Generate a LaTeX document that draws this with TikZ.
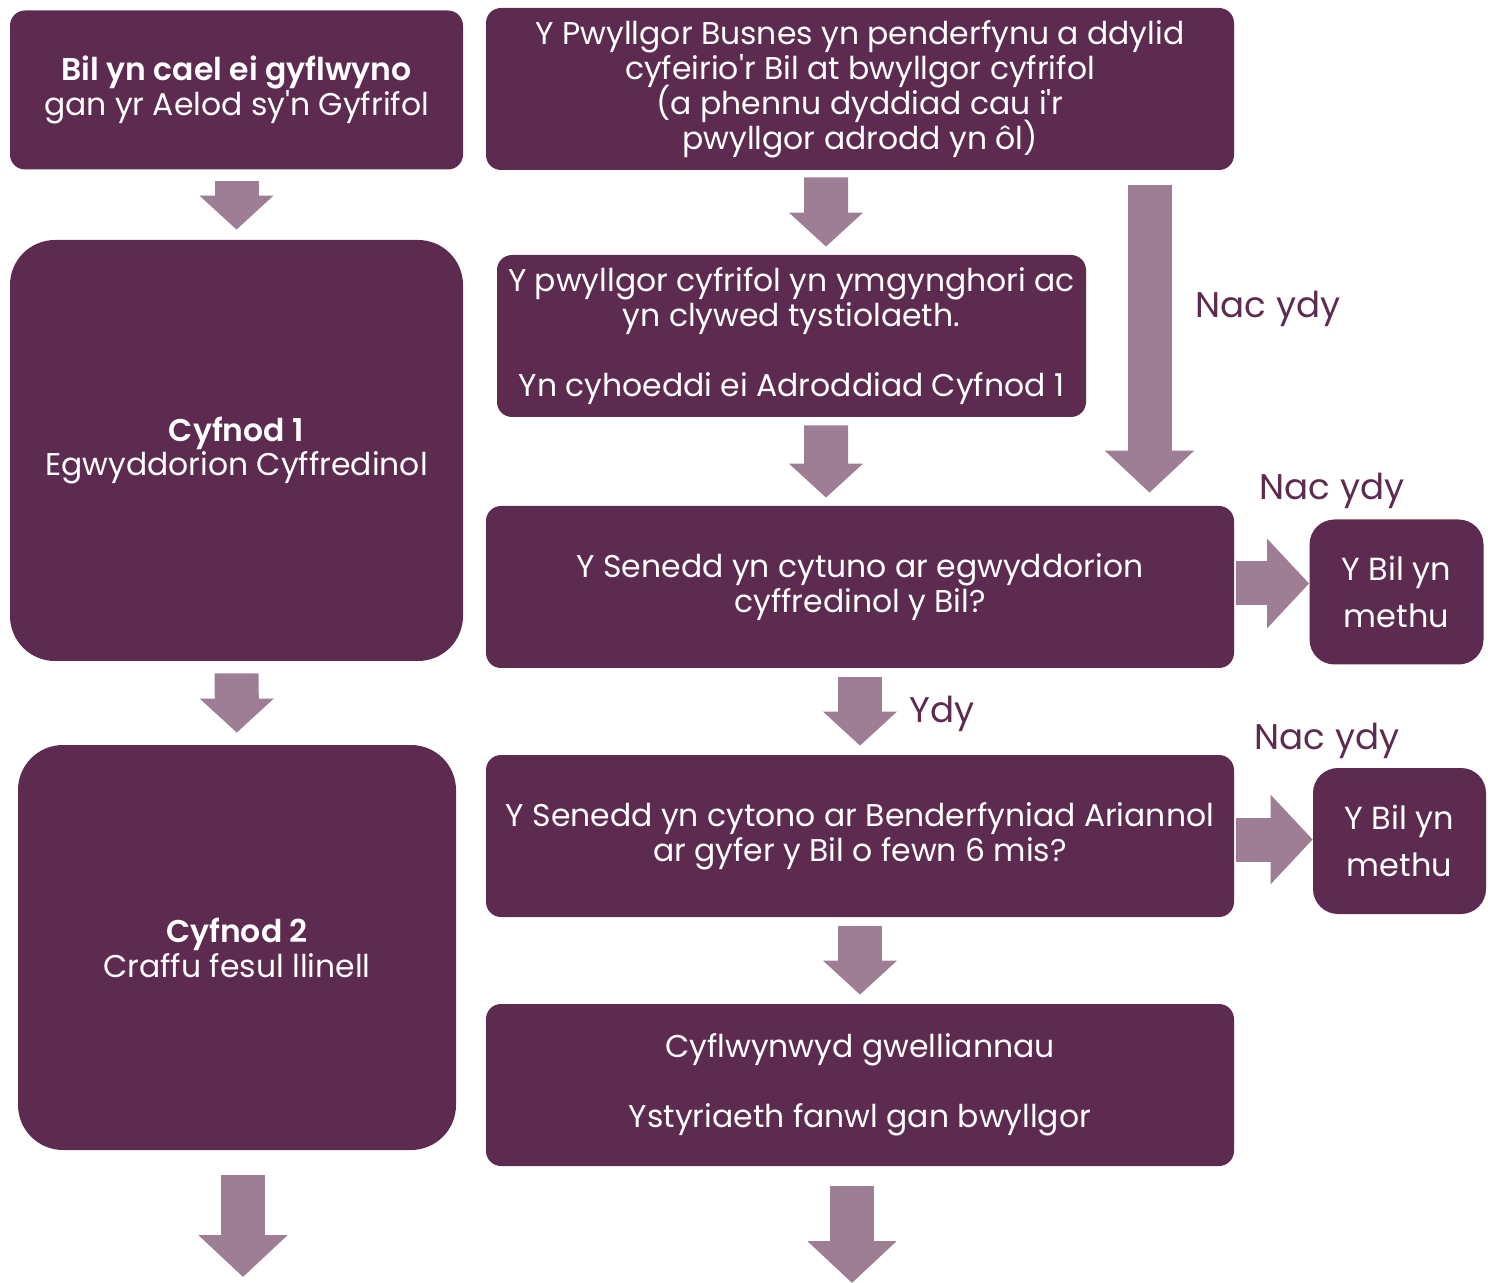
\documentclass[tikz,border=0pt]{standalone}
\usepackage{fontspec}
\setmainfont{Poppins}[BoldFont={Poppins SemiBold}]
\usepackage{tikz}
\usetikzlibrary{arrows.meta}
\definecolor{plum}{RGB}{94,43,80}
\definecolor{mauve}{RGB}{158,126,149}
\newlength\unitpx
\setlength\unitpx{0.02cm}
\setlength\lineskiplimit{-100pt}

\begin{document}
\begin{tikzpicture}[x=0.02cm, y=-0.02cm,
    box/.style={fill=plum, text=white, align=center, inner sep=0pt, rounded corners=15\unitpx,
      font=\fontsize{17.9}{19.9}\selectfont},
    flow/.style={draw=mauve, line width=44\unitpx, -{Triangle[width=1.44cm, length=0.68cm]}},
    bigflow/.style={draw=mauve, line width=44\unitpx, -{Triangle[width=1.74cm, length=0.84cm]}},
    answer/.style={text=plum, inner sep=0pt, font=\fontsize{20.3}{24}\selectfont}]
  \useasboundingbox (0,0) rectangle (1488,1283);
  % left column
  \node [box, minimum width=453\unitpx, minimum height=159\unitpx] (intro) at (236.5,90)
    {\textbf{Bil yn cael ei gyflwyno}\\gan yr Aelod sy\textquotesingle n Gyfrifol};
  \node [box, minimum width=453\unitpx, minimum height=421\unitpx, rounded corners=45\unitpx] (stage1) at (236.5,450.5)
    {\textbf{Cyfnod 1}\\Egwyddorion Cyffredinol};
  \node [box, minimum width=438\unitpx, minimum height=405\unitpx, rounded corners=45\unitpx] (stage2) at (237,947.5)
    {\textbf{Cyfnod 2}\\Craffu fesul llinell};
  \coordinate (endL) at (243,1277);
  % right column
  \node [box, minimum width=748\unitpx, minimum height=162\unitpx] (business) at (860,89)
    {Y Pwyllgor Busnes yn penderfynu a ddylid\\cyfeirio\textquotesingle r Bil at bwyllgor cyfrifol\\(a phennu dyddiad cau i\textquotesingle r\\pwyllgor adrodd yn ôl)};
  \node [box, minimum width=589\unitpx, minimum height=162\unitpx] (committee) at (791.5,336)
    {Y pwyllgor cyfrifol yn ymgynghori ac\\yn clywed tystiolaeth.\\[19.9pt]Yn cyhoeddi ei Adroddiad Cyfnod 1};
  \node [box, minimum width=748\unitpx, minimum height=162\unitpx] (principles) at (860,587)
    {Y Senedd yn cytuno ar egwyddorion\\cyffredinol y Bil?};
  \node [box, minimum width=748\unitpx, minimum height=162\unitpx] (money) at (860,836)
    {Y Senedd yn cytono ar Benderfyniad Ariannol\\ar gyfer y Bil o fewn 6 mis?};
  \node [box, minimum width=748\unitpx, minimum height=162\unitpx] (amend) at (860,1085)
    {Cyflwynwyd gwelliannau\\[19.9pt]Ystyriaeth fanwl gan bwyllgor};
  \coordinate (endR) at (852,1283);
  \node [box, minimum width=174\unitpx, minimum height=145\unitpx, rounded corners=25\unitpx,
    font=\fontsize{18.2}{26.7}\selectfont] (fail1) at (1396.5,592) {Y Bil yn\\methu};
  \node [box, minimum width=173\unitpx, minimum height=146\unitpx, rounded corners=25\unitpx,
    font=\fontsize{18.2}{26.7}\selectfont] (fail2) at (1399.5,841) {Y Bil yn\\methu};
  % answers
  \node [answer] (no1) at (1268,309) {Nac ydy};
  \node [answer] (no2) at (1332,491) {Nac ydy};
  \node [answer] (yes1) at (942,714) {Ydy};
  \node [answer] (no3) at (1327,741) {Nac ydy};
  % arrows
  \draw [flow, shorten <=11\unitpx, shorten >=10\unitpx] (intro) -- (stage1);
  \draw [flow, shorten <=12\unitpx, shorten >=12\unitpx] (stage1) -- (stage2);
  \draw [bigflow, shorten <=25\unitpx] (stage2.south -| endL) -- (endL);
  \draw [flow, shorten <=7\unitpx, shorten >=8\unitpx] ([xshift=-34\unitpx]business.south) -- ([xshift=34.5\unitpx]committee.north);
  \draw [flow, shorten <=8\unitpx, shorten >=8\unitpx] ([xshift=34.5\unitpx]committee.south) -- ([xshift=-34\unitpx]principles.north);
  \draw [bigflow, shorten <=15\unitpx, shorten >=13\unitpx] ([xshift=289.5\unitpx]business.south) -- ([xshift=289.5\unitpx]principles.north);
  \draw [bigflow, shorten <=2\unitpx] ([yshift=3.5\unitpx]principles.east) -- ([yshift=3.5\unitpx]principles.east -| fail1.west);
  \draw [flow, shorten <=9\unitpx, shorten >=9\unitpx] (principles) -- (money);
  \draw [bigflow, shorten <=2\unitpx] ([yshift=-3.5\unitpx]money.east) -- ([yshift=-3.5\unitpx]money.east -| fail2.west);
  \draw [flow, shorten <=9\unitpx, shorten >=9\unitpx] (money) -- (amend);
  \draw [bigflow, shorten <=20\unitpx] (amend.south -| endR) -- (endR);
\end{tikzpicture}
\end{document}
